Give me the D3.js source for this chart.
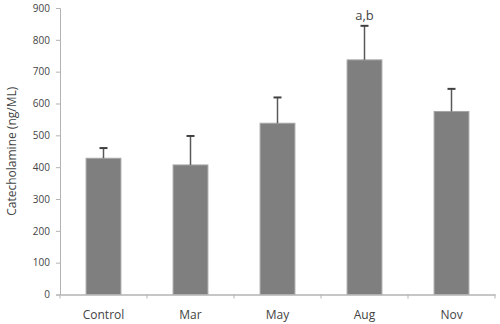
<html>
<head>
<script src="https://d3js.org/d3.v7.min.js"></script>
<style>
  body { margin:0; background:#fff; }
  text { font-family: "Open Sans", sans-serif; fill:#444; }
</style>
</head>
<body>
<script>
// chart data
var categories = ["Control", "Mar", "May", "Aug", "Nov"];
var means = [428, 407, 538, 737, 575];
var errors = [32, 91, 81, 107, 71];
var labels = ["", "", "", "a,b", ""];
var yTicks = [0, 100, 200, 300, 400, 500, 600, 700, 800, 900];

var W = 500, H = 324;
var plotLeft = 60, plotRight = 495, plotTop = 8, plotBottom = 294.5;

var svg = d3.select("body").append("svg")
  .attr("width", W).attr("height", H);

var x = d3.scaleBand().domain(categories).range([plotLeft, plotRight]).paddingInner(0.6).paddingOuter(0.3);
var y = d3.scaleLinear().domain([0, 900]).range([plotBottom, plotTop]);

// bars
svg.selectAll("rect.bar")
  .data(categories)
  .enter().append("rect")
  .attr("class", "bar")
  .attr("x", function(d){ return x(d); })
  .attr("y", function(d, i){ return y(means[i]); })
  .attr("width", x.bandwidth())
  .attr("height", function(d, i){ return y(0) - y(means[i]); })
  .style("fill", "#7f7f7f")
  .style("stroke", "#a6a6a6")
  .style("stroke-width", 1);

// error bars
var eb = svg.selectAll("g.err").data(categories).enter().append("g");
eb.append("line")
  .attr("x1", function(d){ return x(d) + x.bandwidth()/2; })
  .attr("x2", function(d){ return x(d) + x.bandwidth()/2; })
  .attr("y1", function(d, i){ return y(means[i]); })
  .attr("y2", function(d, i){ return y(means[i] + errors[i]); })
  .style("stroke", "#595959").style("stroke-width", 1.5);
eb.append("line")
  .attr("x1", function(d){ return x(d) + x.bandwidth()/2 - 4; })
  .attr("x2", function(d){ return x(d) + x.bandwidth()/2 + 4; })
  .attr("y1", function(d, i){ return y(means[i] + errors[i]); })
  .attr("y2", function(d, i){ return y(means[i] + errors[i]); })
  .style("stroke", "#404040").style("stroke-width", 2);

// significance labels
svg.selectAll("text.sig").data(categories).enter().append("text")
  .attr("x", function(d){ return x(d) + x.bandwidth()/2; })
  .attr("y", function(d, i){ return y(means[i] + errors[i]) - 6; })
  .attr("text-anchor", "middle")
  .style("font-size", "13px")
  .text(function(d, i){ return labels[i]; });

// y axis
var yAxis = svg.append("g").attr("transform", "translate(" + plotLeft + ",0)")
  .call(d3.axisLeft(y).tickValues(yTicks).tickSize(4).tickPadding(6));
yAxis.selectAll("text").style("font-size", "10px").style("fill", "#444");
yAxis.selectAll("line, path").style("stroke", "#b3b3b3");

// x axis
var xAxis = svg.append("g").attr("transform", "translate(0," + plotBottom + ")")
  .call(d3.axisBottom(x).tickSize(0).tickPadding(16));
xAxis.select("path").style("stroke", "#b3b3b3").style("stroke-width", 1.5);
xAxis.selectAll("text").style("font-size", "12px").style("fill", "#444");

// category dividers on x axis
var step = (plotRight - plotLeft) / categories.length;
svg.selectAll("line.xt").data(d3.range(categories.length + 1)).enter().append("line")
  .attr("x1", function(d){ return plotLeft + d * step; })
  .attr("x2", function(d){ return plotLeft + d * step; })
  .attr("y1", plotBottom).attr("y2", plotBottom + 4)
  .style("stroke", "#b3b3b3");

// y title
svg.append("text")
  .attr("transform", "translate(16," + ((plotTop + plotBottom) / 2) + ") rotate(-90)")
  .attr("text-anchor", "middle")
  .style("font-size", "12px")
  .text("Catecholamine (ng/ML)");
</script>
</body>
</html>
